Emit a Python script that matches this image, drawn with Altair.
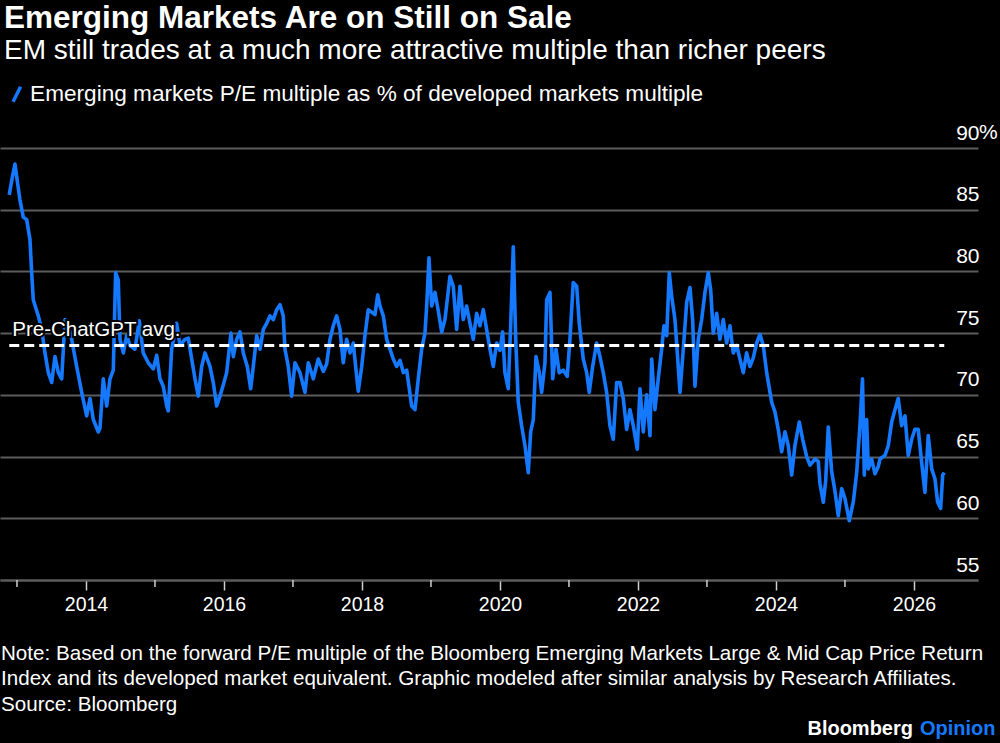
import altair as alt
import pandas as pd

# Emerging-markets forward P/E as a share of the developed-markets multiple (%)
years = [
    2012.888, 2012.928, 2012.971, 2013.000, 2013.043, 2013.091, 2013.141, 2013.188, 2013.213, 2013.236,
    2013.275, 2013.309, 2013.358, 2013.406, 2013.454, 2013.503, 2013.551, 2013.599, 2013.648, 2013.696,
    2013.743, 2013.793, 2013.865, 2013.938, 2014.010, 2014.058, 2014.106, 2014.178, 2014.203, 2014.251,
    2014.300, 2014.348, 2014.396, 2014.430, 2014.468, 2014.493, 2014.541, 2014.590, 2014.638, 2014.710,
    2014.772, 2014.830, 2014.903, 2014.975, 2015.025, 2015.072, 2015.120, 2015.170, 2015.193, 2015.242,
    2015.314, 2015.362, 2015.435, 2015.483, 2015.532, 2015.580, 2015.628, 2015.677, 2015.725, 2015.797,
    2015.845, 2015.894, 2015.942, 2015.990, 2016.039, 2016.101, 2016.135, 2016.184, 2016.232, 2016.280,
    2016.338, 2016.387, 2016.425, 2016.474, 2016.522, 2016.570, 2016.619, 2016.667, 2016.714, 2016.764,
    2016.812, 2016.859, 2016.884, 2016.932, 2016.981, 2017.029, 2017.101, 2017.174, 2017.222, 2017.294,
    2017.367, 2017.439, 2017.488, 2017.536, 2017.584, 2017.633, 2017.681, 2017.729, 2017.778, 2017.826,
    2017.874, 2017.923, 2017.946, 2017.996, 2018.043, 2018.091, 2018.141, 2018.188, 2018.228, 2018.261,
    2018.309, 2018.358, 2018.406, 2018.454, 2018.503, 2018.551, 2018.599, 2018.648, 2018.686, 2018.720,
    2018.768, 2018.816, 2018.865, 2018.913, 2018.938, 2018.971, 2019.010, 2019.058, 2019.106, 2019.155,
    2019.203, 2019.275, 2019.323, 2019.372, 2019.420, 2019.468, 2019.517, 2019.565, 2019.613, 2019.662,
    2019.710, 2019.758, 2019.807, 2019.855, 2019.903, 2019.952, 2020.000, 2020.039, 2020.072, 2020.120,
    2020.155, 2020.193, 2020.228, 2020.265, 2020.314, 2020.362, 2020.410, 2020.445, 2020.483, 2020.522,
    2020.570, 2020.604, 2020.652, 2020.677, 2020.725, 2020.764, 2020.812, 2020.859, 2020.917, 2020.975,
    2021.014, 2021.062, 2021.112, 2021.149, 2021.207, 2021.257, 2021.294, 2021.343, 2021.401, 2021.449,
    2021.497, 2021.546, 2021.594, 2021.642, 2021.691, 2021.739, 2021.787, 2021.836, 2021.884, 2021.932,
    2021.990, 2022.029, 2022.077, 2022.126, 2022.174, 2022.199, 2022.246, 2022.294, 2022.343, 2022.377,
    2022.416, 2022.454, 2022.488, 2022.536, 2022.570, 2022.609, 2022.657, 2022.706, 2022.754, 2022.793,
    2022.826, 2022.874, 2022.923, 2022.971, 2023.019, 2023.054, 2023.091, 2023.141, 2023.188, 2023.236,
    2023.286, 2023.333, 2023.381, 2023.430, 2023.478, 2023.526, 2023.575, 2023.623, 2023.671, 2023.720,
    2023.768, 2023.816, 2023.865, 2023.938, 2023.986, 2024.033, 2024.083, 2024.130, 2024.178, 2024.228,
    2024.275, 2024.338, 2024.387, 2024.445, 2024.493, 2024.565, 2024.613, 2024.638, 2024.686, 2024.720,
    2024.758, 2024.807, 2024.855, 2024.903, 2024.952, 2025.000, 2025.062, 2025.120, 2025.170, 2025.217,
    2025.254, 2025.280, 2025.314, 2025.338, 2025.387, 2025.435, 2025.483, 2025.507, 2025.580, 2025.628,
    2025.677, 2025.725, 2025.772, 2025.822, 2025.870, 2025.917, 2025.967, 2026.014, 2026.062, 2026.112,
    2026.159, 2026.207, 2026.257, 2026.304, 2026.343, 2026.387, 2026.416, 2026.439,
]

pe_ratio = [
    86.2, 87.5, 88.7, 87.5, 85.8, 84.4, 84.2, 82.6, 79.9, 77.7,
    77.0, 76.4, 75.3, 73.4, 71.8, 71.0, 73.1, 71.8, 71.3, 76.1,
    75.6, 74.5, 72.3, 70.2, 68.3, 69.7, 68.0, 67.0, 67.3, 71.3,
    69.1, 71.3, 72.0, 79.9, 79.3, 74.5, 73.4, 74.8, 74.0, 73.7,
    76.0, 73.4, 72.6, 72.1, 73.2, 71.3, 70.7, 69.1, 68.7, 73.7,
    75.8, 74.0, 74.5, 74.6, 72.9, 71.3, 69.9, 72.3, 73.4, 72.3,
    71.0, 69.1, 69.9, 70.8, 71.8, 75.0, 73.1, 74.5, 75.1, 73.4,
    72.3, 70.5, 72.3, 74.8, 73.7, 75.3, 75.8, 76.4, 76.1, 76.9,
    77.3, 76.4, 73.7, 72.3, 69.9, 72.6, 71.8, 70.2, 72.6, 71.3,
    72.9, 71.9, 72.5, 74.5, 75.6, 76.4, 75.3, 72.6, 74.5, 73.4,
    74.2, 71.5, 70.3, 72.3, 74.8, 76.9, 76.7, 76.5, 78.1, 77.2,
    76.4, 74.5, 73.7, 72.9, 72.3, 72.8, 71.8, 72.0, 70.5, 69.1,
    68.8, 71.3, 73.7, 75.0, 77.2, 81.1, 77.2, 78.3, 76.8, 75.1,
    76.1, 79.6, 78.8, 75.3, 78.8, 76.1, 77.2, 75.8, 74.5, 76.6,
    75.6, 76.9, 75.3, 73.7, 72.3, 74.2, 73.6, 75.1, 71.8, 70.5,
    75.6, 82.0, 74.5, 69.4, 67.5, 65.9, 63.7, 67.0, 68.0, 73.1,
    71.8, 70.2, 72.6, 77.7, 78.3, 71.3, 73.7, 71.8, 72.0, 71.5,
    74.5, 79.1, 78.8, 75.8, 72.9, 71.8, 70.2, 72.3, 74.2, 73.1,
    71.8, 70.2, 67.5, 66.4, 71.0, 71.0, 69.7, 67.2, 68.8, 67.5,
    65.6, 70.5, 67.0, 70.0, 66.7, 72.9, 68.8, 71.3, 73.7, 75.6,
    74.8, 79.9, 78.0, 76.1, 73.4, 70.2, 73.7, 77.5, 78.7, 76.0,
    70.7, 74.5, 76.1, 78.3, 79.9, 78.5, 75.0, 76.6, 74.5, 76.1,
    74.2, 75.6, 73.4, 74.0, 72.9, 71.8, 73.4, 72.3, 73.0, 74.2,
    74.9, 74.0, 71.8, 69.4, 68.6, 67.2, 65.4, 67.0, 65.9, 63.5,
    65.9, 67.8, 66.4, 65.0, 64.3, 64.8, 64.6, 62.8, 61.3, 63.0,
    67.4, 63.8, 62.2, 60.2, 62.4, 61.6, 59.8, 61.3, 63.7, 67.5,
    71.3, 63.5, 68.0, 64.0, 64.8, 63.6, 64.2, 64.8, 65.1, 65.9,
    67.8, 68.8, 69.7, 67.5, 68.3, 65.1, 66.4, 67.2, 67.2, 64.5,
    62.1, 66.7, 64.0, 63.2, 61.3, 60.8, 63.5, 63.7,
]

pre_chatgpt_avg = 74.0
avg_label = "Pre-ChatGPT avg."
series_name = "Emerging markets P/E multiple as % of developed markets multiple"

major_years = [2014, 2016, 2018, 2020, 2022, 2024, 2026]
minor_years = [2013, 2015, 2017, 2019, 2021, 2023, 2025]
y_ticks = [55, 60, 65, 70, 75, 80, 85, 90]

title = "Emerging Markets Are on Still on Sale"
subtitle = "EM still trades at a much more attractive multiple than richer peers"
note_lines = [
    "Note: Based on the forward P/E multiple of the Bloomberg Emerging Markets Large & Mid Cap Price Return",
    "Index and its developed market equivalent. Graphic modeled after similar analysis by Research Affiliates.",
    "Source: Bloomberg",
]

FONT = "Liberation Sans"
BLUE = "#1479ff"
GRID = "#5c5c5c"
W, H = 978, 432
TOP = 148

df = pd.DataFrame({"year": years, "ratio": pe_ratio, "series": series_name})

x_scale = alt.Scale(domain=[2012.754, 2026.928], nice=False, zero=False)
y_scale = alt.Scale(domain=[55, 90], nice=False, zero=False)

x_axis = alt.Axis(
    values=major_years, format="d", title=None, orient="bottom", grid=False,
    tickSize=10, tickColor="#cfcfcf", tickWidth=1.5,
    domainColor=GRID, domainWidth=2,
    labelColor="white", labelFontSize=19.5, labelFont=FONT, labelPadding=5,
    labelFlush=False, labelOverlap=False,
)
y_axis = alt.Axis(
    values=y_ticks, orient="right", title=None, grid=True,
    gridColor=GRID, gridWidth=2, domain=False, ticks=False, tickSize=0,
    labelAlign="right", labelBaseline="alphabetic", labelOffset=-9, labelPadding=1,
    labelColor="white", labelFontSize=21, labelFont=FONT,
    labelFlush=False, labelOverlap=False,
)

line = alt.Chart(df).mark_line(strokeWidth=3.6, strokeJoin="round").encode(
    x=alt.X("year:Q", scale=x_scale, axis=x_axis),
    y=alt.Y("ratio:Q", scale=y_scale, axis=y_axis),
    color=alt.Color(
        "series:N", scale=alt.Scale(range=[BLUE]),
        legend=alt.Legend(
            title=None, orient="none", legendX=5.5, legendY=-65, padding=0,
            symbolType="M-0.5,1L0.5,-1", symbolSize=225, symbolStrokeWidth=3.5,
            labelFontSize=22.6, labelFont=FONT, labelColor="white", labelOffset=2, labelLimit=900,
        ),
    ),
)

# shorter ticks for the unlabelled odd years
minor_ticks = alt.Chart(pd.DataFrame({"year": minor_years})).mark_rule(
    color="#cfcfcf", strokeWidth=1.5
).encode(
    x=alt.X("year:Q", scale=x_scale, axis=x_axis),
    y=alt.value(H),
    y2=alt.value(H + 7),
)

avg_df = pd.DataFrame({
    "start": [years[0]], "end": [years[-1]], "avg": [pre_chatgpt_avg], "label": [avg_label]
})

avg_rule = alt.Chart(avg_df).mark_rule(
    color="white", strokeWidth=3, strokeDash=[10, 5]
).encode(
    x=alt.X("start:Q", scale=x_scale, axis=x_axis),
    x2="end:Q",
    y=alt.Y("avg:Q", scale=y_scale, axis=y_axis),
)

avg_halo = alt.Chart(avg_df).mark_text(
    align="left", baseline="alphabetic", dx=3, dy=-9, fontSize=20.5, font=FONT,
    color="black", stroke="black", strokeWidth=4,
).encode(
    x=alt.X("start:Q", scale=x_scale, axis=x_axis),
    y=alt.Y("avg:Q", scale=y_scale, axis=y_axis),
    text="label:N",
)

avg_text = alt.Chart(avg_df).mark_text(
    align="left", baseline="alphabetic", dx=3, dy=-9, fontSize=20.5, font=FONT, color="white",
).encode(
    x=alt.X("start:Q", scale=x_scale, axis=x_axis),
    y=alt.Y("avg:Q", scale=y_scale, axis=y_axis),
    text="label:N",
)

pct_sign = alt.Chart(pd.DataFrame({"v": [y_ticks[-1]], "t": ["%"]})).mark_text(
    align="left", baseline="alphabetic", dy=-9, fontSize=21, font=FONT, color="white",
).encode(
    x=alt.value(W + 1),
    y=alt.Y("v:Q", scale=y_scale, axis=y_axis),
    text="t:N",
)


def text_block(text, x, page_y, size, color="white", weight="normal", align="left"):
    return alt.Chart(pd.DataFrame({"t": [text]})).mark_text(
        align=align, baseline="alphabetic", fontSize=size, fontWeight=weight,
        color=color, font=FONT,
    ).encode(x=alt.value(x), y=alt.value(page_y - TOP), text="t:N")


texts = [
    text_block(title, 4, 28, 31.5, weight="bold"),
    text_block(subtitle, 4, 59, 28),
    text_block(note_lines[0], 1, 660, 20.6),
    text_block(note_lines[1], 1, 685, 20.6),
    text_block(note_lines[2], 1, 711, 20.6),
    text_block("Bloomberg", 913, 735, 20, weight="bold", align="right"),
    text_block("Opinion", 920, 735, 20, color=BLUE, weight="bold"),
]

chart = alt.layer(
    line, minor_ticks, avg_rule, avg_halo, avg_text, pct_sign, *texts
).properties(
    width=W, height=H,
    autosize=alt.AutoSizeParams(type="none"),
    padding={"left": 0, "top": TOP, "right": 1000 - W, "bottom": 743 - TOP - H},
).configure(
    background="black", font=FONT,
).configure_view(strokeWidth=0)

chart.save("out.html", embed_options={"renderer": "svg", "actions": False})
